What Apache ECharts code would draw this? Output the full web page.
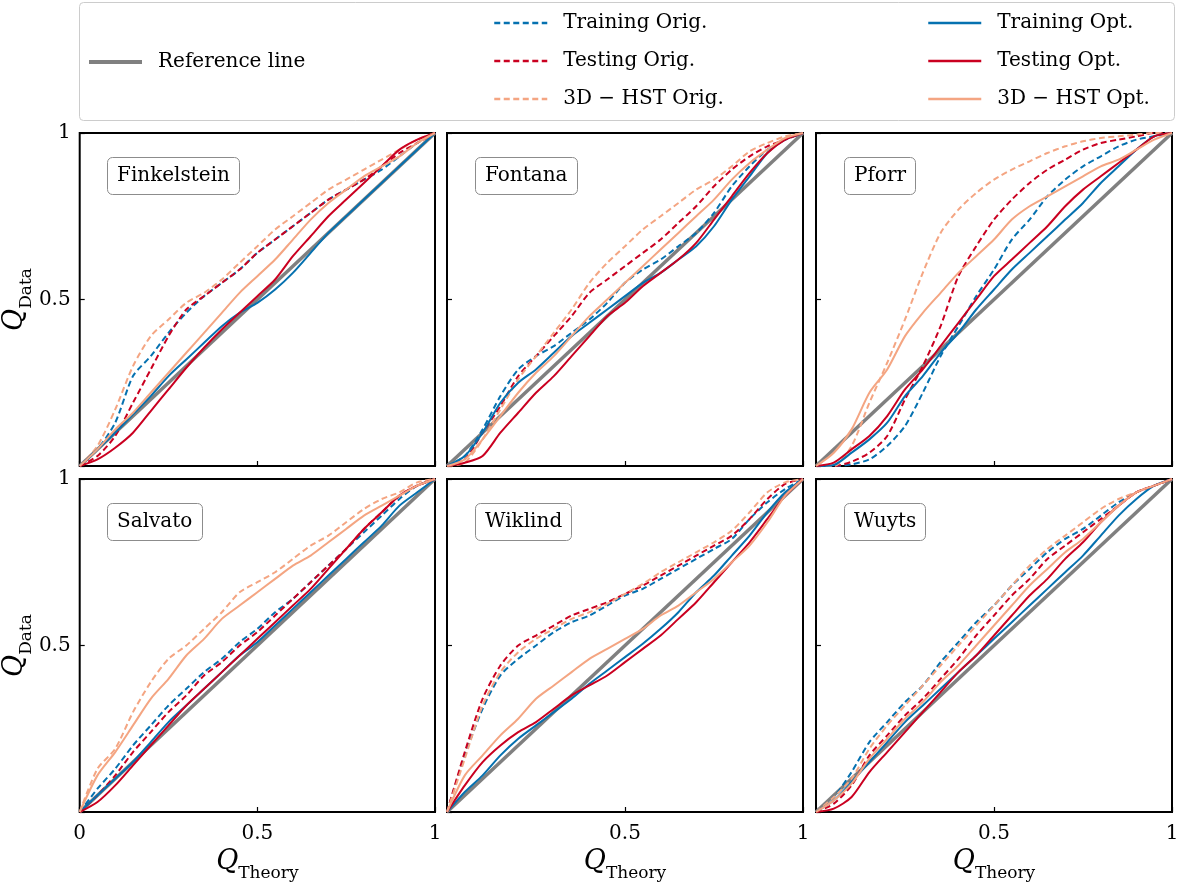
<!DOCTYPE html>
<html>
<head>
<meta charset="utf-8">
<script src="https://cdn.jsdelivr.net/npm/echarts@6/dist/echarts.min.js"></script>
<style>
  html, body { margin: 0; padding: 0; background: #ffffff; }
  #main { width: 1183px; height: 884px; }
</style>
</head>
<body>
<div id="main"></div>
<script>
// Theoretical quantiles shared by every curve
const qTheory = [0, 0.05, 0.1, 0.15, 0.2, 0.25, 0.3, 0.35, 0.4, 0.45, 0.5,
                 0.55, 0.6, 0.65, 0.7, 0.75, 0.8, 0.85, 0.9, 0.95, 1];
const referenceLine = [0, 1];
const tickLabels = { 0: '0', 0.5: '0.5', 1: '1' };

const panelNames = ['Finkelstein', 'Fontana', 'Pforr', 'Salvato', 'Wiklind', 'Wuyts'];
const seriesNames = ['Training Orig.', 'Testing Orig.', '3D \u2212 HST Orig.',
                     'Training Opt.', 'Testing Opt.', '3D \u2212 HST Opt.'];

// Finkelstein
const finkelsteinTrainingOrig = [0, .05, .13, .27, .33, .40, .46, .51, .55, .59, .64, .68, .72, .76, .80, .83, .86, .89, .93, .97, 1];
const finkelsteinTestingOrig  = [0, .03, .09, .19, .29, .39, .47, .51, .55, .59, .64, .68, .72, .76, .80, .83, .86, .90, .94, .97, 1];
const finkelsteinHstOrig      = [0, .06, .17, .30, .39, .44, .49, .52, .56, .61, .66, .71, .75, .79, .83, .86, .89, .92, .95, .98, 1];
const finkelsteinTrainingOpt  = [0, .05, .10, .155, .21, .27, .32, .37, .42, .46, .49, .53, .58, .64, .70, .75, .80, .85, .90, .95, 1];
const finkelsteinTestingOpt   = [0, .02, .055, .10, .165, .23, .295, .355, .41, .46, .51, .56, .63, .69, .75, .80, .85, .90, .95, .98, 1];
const finkelsteinHstOpt       = [0, .05, .11, .16, .22, .28, .34, .40, .46, .52, .57, .62, .68, .74, .79, .83, .87, .90, .93, .97, 1];

// Fontana
const fontanaTrainingOrig = [0, .03, .11, .21, .29, .33, .36, .40, .44, .49, .55, .59, .62, .66, .70, .76, .84, .90, .95, .98, 1];
const fontanaTestingOrig  = [0, .02, .10, .18, .27, .33, .39, .45, .52, .56, .60, .64, .68, .73, .78, .84, .89, .93, .96, .98, 1];
const fontanaHstOrig      = [0, .01, .08, .17, .26, .33, .40, .47, .55, .61, .66, .71, .75, .79, .83, .86, .90, .945, .97, .99, 1];
const fontanaTrainingOpt  = [0, .03, .10, .19, .25, .29, .34, .39, .43, .47, .51, .55, .58, .62, .66, .72, .80, .87, .94, .98, 1];
const fontanaTestingOpt   = [0, .01, .03, .10, .16, .22, .27, .33, .39, .45, .49, .54, .58, .62, .67, .74, .81, .88, .94, .98, 1];
const fontanaHstOpt       = [0, .02, .08, .15, .22, .28, .33, .39, .45, .50, .55, .60, .65, .70, .75, .80, .86, .91, .95, .985, 1];

// Pforr
const pforrTrainingOrig = [0, 0, .005, .02, .06, .12, .22, .33, .42, .51, .59, .68, .74, .81, .86, .90, .93, .96, .98, .99, 1];
const pforrTestingOrig  = [0, 0, .013, .04, .09, .20, .30, .42, .57, .66, .74, .80, .85, .89, .92, .95, .97, .98, .99, 1, 1];
const pforrHstOrig      = [0, 0, .06, .19, .31, .44, .58, .70, .77, .82, .86, .89, .915, .94, .96, .975, .985, .99, .995, 1, 1];
const pforrTrainingOpt  = [0, .003, .04, .08, .13, .21, .27, .34, .40, .47, .53, .59, .64, .69, .74, .79, .85, .90, .95, .99, 1];
const pforrTestingOpt   = [0, .01, .05, .09, .15, .23, .29, .36, .43, .50, .57, .62, .67, .72, .78, .83, .87, .91, .95, .99, 1];
const pforrHstOpt       = [0, .04, .11, .22, .29, .39, .46, .52, .58, .63, .68, .74, .78, .81, .84, .87, .90, .92, .95, .98, 1];

// Salvato
const salvatoTrainingOrig = [0, .07, .13, .20, .26, .32, .37, .42, .46, .51, .55, .60, .64, .69, .74, .79, .84, .89, .94, .98, 1];
const salvatoTestingOrig  = [0, .05, .11, .18, .24, .30, .35, .41, .45, .50, .54, .59, .64, .69, .74, .79, .85, .90, .95, .98, 1];
const salvatoHstOrig      = [0, .13, .19, .30, .39, .46, .50, .55, .60, .66, .69, .72, .76, .80, .83, .87, .91, .94, .96, .99, 1];
const salvatoTrainingOpt  = [0, .05, .10, .15, .21, .27, .32, .37, .42, .47, .51, .56, .61, .66, .71, .76, .81, .86, .92, .96, 1];
const salvatoTestingOpt   = [0, .03, .08, .14, .20, .26, .32, .37, .42, .47, .52, .57, .62, .67, .73, .79, .85, .90, .95, .98, 1];
const salvatoHstOpt       = [0, .11, .18, .26, .34, .40, .47, .52, .58, .62, .66, .70, .74, .77, .81, .85, .89, .92, .95, .98, 1];

// Wiklind
const wiklindTrainingOrig = [0, .17, .31, .41, .46, .50, .54, .57, .59, .62, .65, .67, .70, .73, .76, .79, .82, .88, .93, .97, 1];
const wiklindTestingOrig  = [0, .18, .34, .44, .50, .53, .56, .59, .61, .63, .655, .68, .71, .74, .77, .80, .83, .88, .94, .985, 1];
const wiklindHstOrig      = [0, .16, .32, .42, .48, .52, .55, .58, .60, .625, .655, .685, .72, .75, .78, .81, .845, .90, .96, .99, 1];
const wiklindTrainingOpt  = [0, .06, .11, .17, .22, .26, .30, .34, .385, .425, .465, .505, .55, .60, .66, .71, .77, .83, .90, .96, 1];
const wiklindTestingOpt   = [0, .08, .15, .20, .24, .27, .31, .35, .38, .41, .45, .49, .53, .58, .63, .69, .75, .81, .88, .95, 1];
const wiklindHstOpt       = [0, .11, .17, .23, .28, .34, .38, .42, .46, .49, .52, .55, .59, .62, .66, .70, .75, .80, .87, .95, 1];

// Wuyts
const wuytsTrainingOrig = [0, .045, .12, .21, .27, .33, .38, .45, .51, .57, .62, .68, .73, .78, .82, .85, .89, .93, .96, .98, 1];
const wuytsTestingOrig  = [0, .025, .08, .17, .23, .29, .34, .40, .46, .53, .59, .65, .70, .76, .80, .84, .88, .92, .96, .98, 1];
const wuytsHstOrig      = [0, .045, .10, .19, .26, .32, .38, .44, .50, .56, .62, .68, .74, .79, .83, .87, .91, .94, .96, .98, 1];
const wuytsTrainingOpt  = [0, .035, .09, .15, .21, .27, .32, .37, .42, .47, .52, .57, .62, .67, .72, .77, .83, .89, .94, .98, 1];
const wuytsTestingOpt   = [0, .01, .045, .12, .18, .24, .30, .36, .42, .47, .53, .59, .65, .70, .76, .81, .87, .92, .96, .98, 1];
const wuytsHstOpt       = [0, .035, .085, .16, .22, .28, .33, .39, .44, .50, .56, .62, .68, .73, .78, .82, .87, .92, .96, .98, 1];

const panelCurves = [
  [finkelsteinTrainingOrig, finkelsteinTestingOrig, finkelsteinHstOrig, finkelsteinTrainingOpt, finkelsteinTestingOpt, finkelsteinHstOpt],
  [fontanaTrainingOrig, fontanaTestingOrig, fontanaHstOrig, fontanaTrainingOpt, fontanaTestingOpt, fontanaHstOpt],
  [pforrTrainingOrig, pforrTestingOrig, pforrHstOrig, pforrTrainingOpt, pforrTestingOpt, pforrHstOpt],
  [salvatoTrainingOrig, salvatoTestingOrig, salvatoHstOrig, salvatoTrainingOpt, salvatoTestingOpt, salvatoHstOpt],
  [wiklindTrainingOrig, wiklindTestingOrig, wiklindHstOrig, wiklindTrainingOpt, wiklindTestingOpt, wiklindHstOpt],
  [wuytsTrainingOrig, wuytsTestingOrig, wuytsHstOrig, wuytsTrainingOpt, wuytsTestingOpt, wuytsHstOpt]
];

const SERIF = 'DejaVu Serif';
const colors = ['#0571b0', '#ca0020', '#f4a582', '#0571b0', '#ca0020', '#f4a582'];
const dashed = [true, true, true, false, false, false];

const colLeft = [79, 447, 816];
const rowTop = [133, 479];
const cellW = 356, cellH = 333;

const grids = [], xAxes = [], yAxes = [], series = [], titles = [];

const nameRich = {
  q: { fontFamily: SERIF, fontStyle: 'italic', fontSize: 27, color: '#000', padding: [0, 0, 7, 0] },
  s: { fontFamily: SERIF, fontSize: 17, color: '#000', verticalAlign: 'bottom' }
};

panelNames.forEach((name, i) => {
  const r = Math.floor(i / 3), c = i % 3;
  grids.push({
    left: colLeft[c], top: rowTop[r], width: cellW, height: cellH,
    show: true, borderColor: '#000', borderWidth: 2, backgroundColor: '#fff'
  });
  xAxes.push({
    type: 'value', gridIndex: i, min: 0, max: 1, interval: 0.5,
    axisLine: { show: false }, splitLine: { show: false },
    axisTick: { show: true, inside: true, length: 5, lineStyle: { color: '#000', width: 1.2 } },
    axisLabel: {
      show: r === 1, margin: 12, color: '#000', fontFamily: SERIF, fontSize: 20,
      formatter: v => (c > 0 && v === 0) ? '' : tickLabels[v]
    },
    name: r === 1 ? '{q|Q}{s|Theory}' : '',
    nameLocation: 'middle', nameGap: 36,
    nameTextStyle: { rich: nameRich }
  });
  yAxes.push({
    type: 'value', gridIndex: i, min: 0, max: 1, interval: 0.5,
    axisLine: { show: false }, splitLine: { show: false },
    axisTick: { show: true, inside: true, length: 5, lineStyle: { color: '#000', width: 1.2 } },
    axisLabel: {
      show: c === 0, margin: 9, color: '#000', fontFamily: SERIF, fontSize: 20,
      formatter: v => v === 0 ? '' : tickLabels[v]
    },
    name: c === 0 ? '{q|Q}{s|Data}' : '',
    nameLocation: 'middle', nameRotate: 90, nameGap: 42,
    nameTextStyle: { rich: nameRich }
  });
  titles.push({
    text: name,
    left: colLeft[c] + 28, top: rowTop[r] + 24,
    padding: [9, 10, 9, 10],
    borderColor: '#8c8c8c', borderWidth: 1, borderRadius: 5,
    backgroundColor: '#fff',
    textStyle: { fontFamily: SERIF, fontWeight: 'normal', fontSize: 20, color: '#000' }
  });

  // 1:1 reference diagonal
  series.push({
    name: 'Reference line', type: 'line', xAxisIndex: i, yAxisIndex: i,
    data: referenceLine.map(v => [v, v]), symbol: 'none', silent: true,
    lineStyle: { color: '#808080', width: 3.5 }, itemStyle: { color: '#808080' }, z: 2
  });
  panelCurves[i].forEach((vals, k) => {
    series.push({
      name: seriesNames[k], type: 'line', xAxisIndex: i, yAxisIndex: i,
      data: qTheory.map((x, j) => [x, vals[j]]),
      symbol: 'none', silent: true, smooth: 0.25,
      lineStyle: { color: colors[k], width: 2, type: dashed[k] ? [6, 3.5] : 'solid' },
      itemStyle: { color: colors[k] }, z: 3
    });
  });
});

const legendText = { fontFamily: SERIF, fontSize: 20, color: '#000', padding: [0, 0, 0, 11] };
const legendCommon = {
  selectedMode: false, padding: 0, itemWidth: 53, itemHeight: 14, itemGap: 18,
  textStyle: legendText, itemStyle: { opacity: 0 }
};

const option = {
  animation: false,
  backgroundColor: '#fff',
  title: titles,
  grid: grids,
  xAxis: xAxes,
  yAxis: yAxes,
  series: series,
  graphic: [{
    type: 'rect', left: 79, top: 2, z: -1,
    shape: { width: 1095, height: 118, r: 4 },
    style: { fill: '#fff', stroke: '#cccccc', lineWidth: 1 }
  }],
  legend: [
    Object.assign({}, legendCommon, {
      data: ['Reference line'], left: 87, top: 52,
      lineStyle: { width: 4 }
    }),
    Object.assign({}, legendCommon, {
      data: seriesNames.slice(0, 3), orient: 'vertical', left: 493, top: 13,
      lineStyle: { width: 2.5 }
    }),
    Object.assign({}, legendCommon, {
      data: seriesNames.slice(3), orient: 'vertical', left: 927, top: 13,
      lineStyle: { width: 2.5 }
    })
  ]
};

const chart = echarts.init(document.getElementById('main'), null, { renderer: 'canvas' });
chart.setOption(option);
</script>
</body>
</html>
